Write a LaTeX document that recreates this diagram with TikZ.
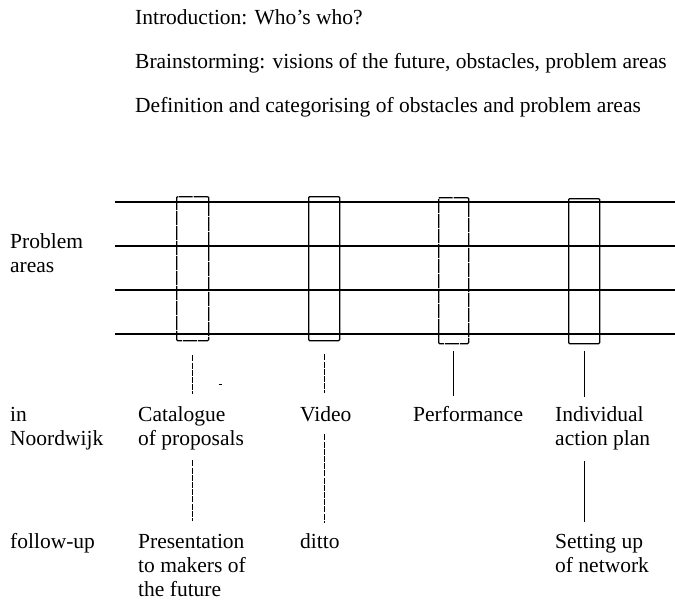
\documentclass[tikz,border=0pt]{standalone}
\usepackage{fontspec}
\setmainfont{Liberation Serif}
\begin{document}
\begin{tikzpicture}[x=1bp,y=-1bp,
  lbl/.style={anchor=base west, inner sep=0pt, font=\fontsize{21.5bp}{24bp}\selectfont, align=left},
  hline/.style={line width=1.1bp},
  slot/.style={draw, line width=1.3bp, rounded corners=1bp, inner sep=0pt, anchor=north west},
  brokenslot/.style={slot, dash pattern=on 14bp off 1bp},
  link/.style={line width=1.2bp},
  dlink/.style={line width=1.2bp, dash pattern=on 6bp off 1.2bp}]
\useasboundingbox (0,0) rectangle (675,601);

% top texts
\node[lbl] (t1) at (135,25) {Introduction: Who's who?};
\node[lbl] (t2) at (135,69) {Brainstorming: visions of the future, obstacles, problem areas};
\node[lbl] (t3) at (135,113) {Definition and categorising of obstacles and problem areas};

% problem area lines
\foreach \y/\n in {202/l1,246/l2,290/l3,334/l4}{
  \coordinate (\n a) at (115,\y);
  \coordinate (\n b) at (675,\y);
  \draw[hline] (\n a) -- (\n b);
}
% multi-line nodes: base anchor is the last line's baseline
\node[lbl] (pa) at (10,272) {Problem\\areas};

% slots
\node[brokenslot, minimum width=32bp, minimum height=144bp] (r1) at (176,196) {};
\node[slot, minimum width=31bp, minimum height=144bp] (r2) at (308,196) {};
\node[brokenslot, minimum width=30bp, minimum height=146bp] (r3) at (438,197) {};
\node[slot, minimum width=31bp, minimum height=145bp] (r4) at (568,198) {};

% in Noordwijk row
\node[lbl] (nd) at (10,445) {in\\Noordwijk};
\node[lbl] (cat) at (138,445) {Catalogue\\of proposals};
\node[lbl] (vid) at (300,421) {Video};
\node[lbl] (perf) at (413,421) {Performance};
\node[lbl] (ind) at (555,445) {Individual\\action plan};

% follow-up row
\node[lbl] (fu) at (10,548) {follow-up};
\node[lbl] (pres) at (138,596) {Presentation\\to makers of\\the future};
\node[lbl] (ditto) at (300,548) {ditto};
\node[lbl] (net) at (555,572) {Setting up\\of network};

% connectors
\draw[dlink] (r1.south) ++(0,14) -- ++(0,39);
\draw[link] (r1.south) ++(26,43) -- ++(3,0);
\draw[dlink] (r2.south) ++(0,13) -- ++(0,39);
\draw[link] (r3.south) ++(0,7) -- ++(0,45);
\draw[link] (r4.south) ++(0,7) -- ++(0,46);

\draw[dlink] (r1.south) ++(0,119) -- ++(0,61);
\draw[dlink] (r2.south) ++(0,93) -- ++(0,89);
\draw[link] (r4.south) ++(0,117) -- ++(0,61);
\end{tikzpicture}
\end{document}
